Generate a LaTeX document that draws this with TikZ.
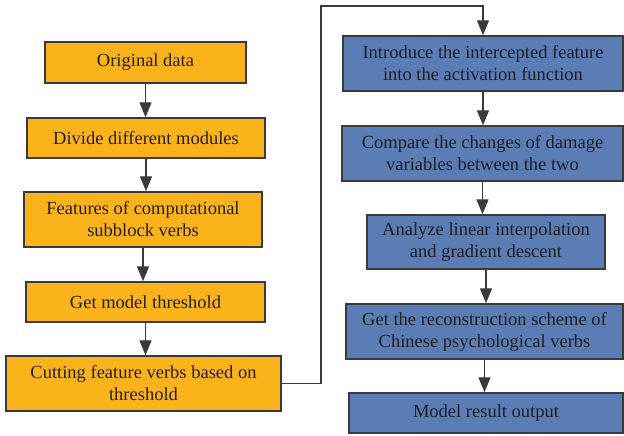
\documentclass[tikz,border=0pt]{standalone}
\usepackage{fontspec}
\setmainfont{Liberation Serif}
\usetikzlibrary{arrows.meta}
\definecolor{boxorange}{HTML}{FBB31B}
\definecolor{boxblue}{HTML}{5B7DB6}
\definecolor{edgegray}{HTML}{3A3A3C}
\definecolor{txt}{HTML}{231F20}
\tikzset{
  flowbox/.style={draw=edgegray, line width=1.4pt, inner sep=0pt, align=center,
    text=txt, font=\fontsize{18.5}{22}\selectfont},
  obox/.style={flowbox, fill=boxorange},
  bbox/.style={flowbox, fill=boxblue},
  arr/.style={draw=edgegray, line width=1.3pt, -{Triangle[length=15pt,width=12pt]}},
}
\begin{document}
\begin{tikzpicture}[x=1pt,y=-1pt]
\useasboundingbox (0,0) rectangle (624,436);
% left column
\node[obox, minimum width=201pt, minimum height=41pt] (l1) at (145.5,62.5) {Original data};
\node[obox, minimum width=238pt, minimum height=40pt] (l2) at (146,138) {Divide different modules};
\node[obox, minimum width=238pt, minimum height=55pt] (l3) at (143,219.5) {Features of computational\\subblock verbs};
\node[obox, minimum width=239pt, minimum height=40pt] (l4) at (145.5,302) {Get model threshold};
\node[obox, minimum width=275pt, minimum height=55pt] (l5) at (143.5,383.5) {Cutting feature verbs based on\\threshold};
% right column
\node[bbox, minimum width=280pt, minimum height=55pt] (r1) at (483,63.5) {Introduce the intercepted feature\\into the activation function};
\node[bbox, minimum width=281pt, minimum height=55pt] (r2) at (482.5,153.5) {Compare the changes of damage\\variables between the two};
\node[bbox, minimum width=238pt, minimum height=54pt] (r3) at (486,242) {Analyze linear interpolation\\and gradient descent};
\node[bbox, minimum width=277pt, minimum height=55pt] (r4) at (484.5,331.5) {Get the reconstruction scheme of\\Chinese psychological verbs};
\node[bbox, minimum width=274pt, minimum height=40pt] (r5) at (486,413) {Model result output};
% arrows
\draw[arr] (l1) -- (l1 |- l2.north);
\draw[arr] (l2) -- (l2 |- l3.north);
\draw[arr] (l3) -- (l3 |- l4.north);
\draw[arr] (l4) -- (l4 |- l5.north);
\coordinate (k1) at (321,6);
\draw[arr] (l5.east) -| (k1) -| (r1.north);
\draw[arr] (r1) -- (r1 |- r2.north);
\draw[arr] (r2) -- (r2 |- r3.north);
\draw[arr] (r3) -- (r3 |- r4.north);
\draw[arr] (r4) -- (r4 |- r5.north);
\end{tikzpicture}
\end{document}
